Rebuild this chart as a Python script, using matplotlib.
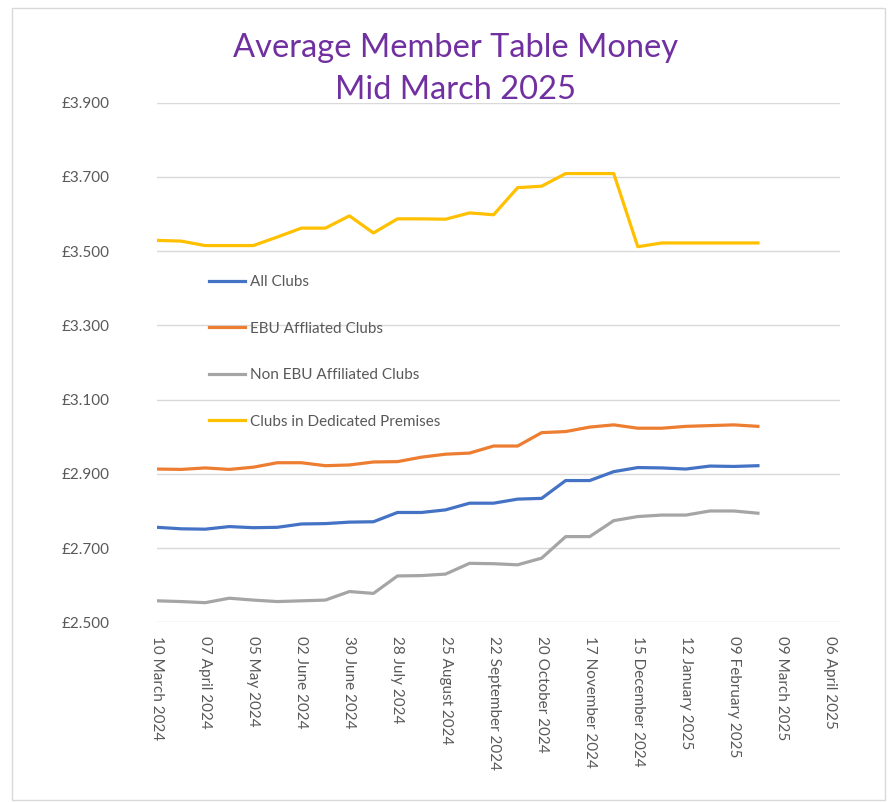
import matplotlib
matplotlib.use("Agg")
import matplotlib.pyplot as plt
import matplotlib.dates as mdates
from matplotlib.patches import Rectangle
import pandas as pd

plt.rcParams['font.family'] = ['Lato', 'DejaVu Sans']

# fortnightly survey dates
dates = pd.to_datetime([
    '2024-03-10', '2024-03-24', '2024-04-07', '2024-04-21', '2024-05-05',
    '2024-05-19', '2024-06-02', '2024-06-16', '2024-06-30', '2024-07-14',
    '2024-07-28', '2024-08-11', '2024-08-25', '2024-09-08', '2024-09-22',
    '2024-10-06', '2024-10-20', '2024-11-03', '2024-11-17', '2024-12-01',
    '2024-12-15', '2024-12-29', '2025-01-12', '2025-01-26', '2025-02-09',
    '2025-02-23',
])

all_clubs = [2.756, 2.752, 2.751, 2.758, 2.755, 2.756, 2.765, 2.766, 2.770, 2.771,
             2.796, 2.796, 2.803, 2.821, 2.821, 2.832, 2.834, 2.882, 2.882, 2.906,
             2.917, 2.916, 2.913, 2.921, 2.920, 2.922]
ebu = [2.913, 2.912, 2.916, 2.912, 2.918, 2.930, 2.930, 2.922, 2.924, 2.932,
       2.933, 2.945, 2.953, 2.956, 2.975, 2.975, 3.011, 3.014, 3.026, 3.032,
       3.023, 3.023, 3.028, 3.030, 3.032, 3.028]
non_ebu = [2.558, 2.556, 2.553, 2.565, 2.560, 2.556, 2.558, 2.560, 2.583, 2.578,
           2.625, 2.626, 2.630, 2.659, 2.658, 2.655, 2.673, 2.731, 2.731, 2.774,
           2.785, 2.789, 2.789, 2.800, 2.800, 2.794]
premises = [3.529, 3.527, 3.515, 3.515, 3.515, 3.538, 3.562, 3.562, 3.595, 3.549,
            3.587, 3.587, 3.586, 3.603, 3.598, 3.671, 3.675, 3.709, 3.709, 3.709,
            3.512, 3.522, 3.522, 3.522, 3.522, 3.522]

series = [
    ('All Clubs', all_clubs, '#4472C4'),
    ('EBU Affliated Clubs', ebu, '#ED7D31'),
    ('Non EBU Affiliated Clubs', non_ebu, '#A5A5A5'),
    ('Clubs in Dedicated Premises', premises, '#FFC000'),
]

tick_dates = pd.to_datetime([
    '2024-03-10', '2024-04-07', '2024-05-05', '2024-06-02', '2024-06-30',
    '2024-07-28', '2024-08-25', '2024-09-22', '2024-10-20', '2024-11-17',
    '2024-12-15', '2025-01-12', '2025-02-09', '2025-03-09', '2025-04-06',
])
y_ticks = [2.5, 2.7, 2.9, 3.1, 3.3, 3.5, 3.7, 3.9]

fig = plt.figure(figsize=(8.93, 8.02), dpi=100)
ax = fig.add_axes([0.176, 0.224, 0.765, 0.648])

for name, vals, col in series:
    ax.plot(dates, vals, color=col, linewidth=2.3, label=name, solid_joinstyle='round')

ax.set_ylim(2.5, 3.9)
ax.set_yticks(y_ticks)
ax.set_yticklabels([f'£{v:.3f}' for v in y_ticks])
ax.set_xlim(pd.Timestamp('2024-03-10'), pd.Timestamp('2025-04-12'))
ax.set_xticks(tick_dates)
ax.xaxis.set_major_formatter(mdates.DateFormatter('%d %B %Y'))
plt.setp(ax.get_xticklabels(), rotation=270, ha='center', va='top')

ax.grid(axis='y', color='#d9d9d9', linewidth=1)
ax.set_axisbelow(True)
for s in ax.spines.values():
    s.set_visible(False)
ax.tick_params(length=0, colors='#595959', labelsize=11)
ax.tick_params(axis='y', pad=34)
ax.tick_params(axis='x', pad=10)

ax.legend(loc='upper left', bbox_to_anchor=(0.064, 0.683), frameon=False,
          fontsize=11, labelspacing=2.13, handlelength=2.4, handletextpad=0.3,
          borderpad=0, labelcolor='#595959')

fig.text(0.51, 0.914, 'Average Member Table Money\nMid March 2025', ha='center',
         va='center', fontsize=23.5, color='#7030A0', linespacing=1.5)

fig.patches.append(Rectangle((0.013, 0.002), 0.978, 0.988, transform=fig.transFigure,
                             fill=False, edgecolor='#d9d9d9', linewidth=1))

fig.savefig('out.png', dpi=100)
